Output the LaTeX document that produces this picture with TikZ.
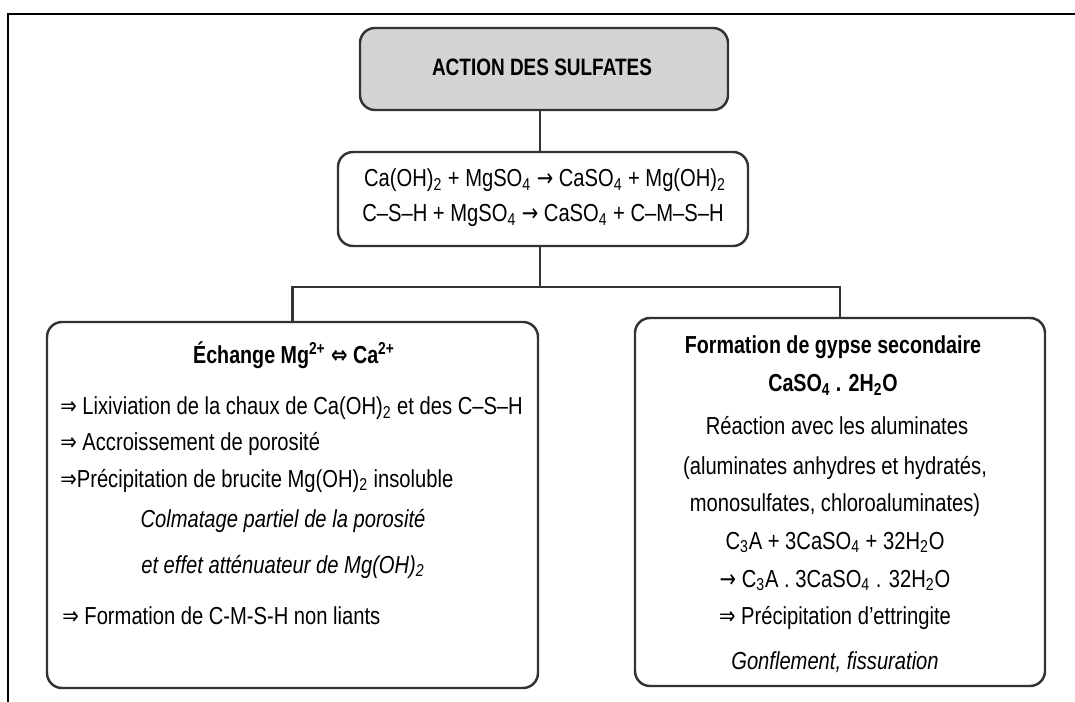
\documentclass[tikz,border=0pt]{standalone}
\usepackage{fontspec}
\setmainfont[FakeStretch=0.82,BoldFeatures={FakeStretch=0.8}]{Liberation Sans}
\newfontfamily\arrowfont[FakeStretch=0.8]{DejaVu Sans}
\usetikzlibrary{positioning}

\newcommand{\dimp}{{\arrowfont ⇒}}
\newcommand{\dequiv}{{\arrowfont ⇔}}
\newcommand{\yields}{{\arrowfont →}}
\newcommand{\sbs}[1]{\textsubscript{#1}}

\begin{document}
\begin{tikzpicture}[
            x=0.02cm, y=-0.02cm,
            font=\fontsize{14}{17}\selectfont,
            line/.style={draw=black!80, line width=1.4pt},
            box/.style={line, rectangle, rounded corners=0.3cm, inner sep=0pt},
            txt/.style={inner sep=0pt, anchor=base},
            item/.style={inner sep=0pt, anchor=base west}
        ]
        \useasboundingbox (0,0) rectangle (1075,702);
        \draw[line width=1.6pt] (8,702) -- (8,14) -- (1075,14);

        \node[box, fill=black!17, minimum width=368*0.02cm, minimum height=82*0.02cm] (T) at (544,69) {};
        \node[box, minimum width=410*0.02cm, minimum height=94*0.02cm] (E) at (543,199) {};
        \node[box, minimum width=491*0.02cm, minimum height=366*0.02cm] (L) at (292.5,505) {};
        \node[box, minimum width=410*0.02cm, minimum height=368*0.02cm] (R) at (840,502) {};

        \coordinate (split) at (540,287);
        \draw[line] (T.south -| split) -- (E.north -| split);
        \draw[line] (E.south -| split) -- (split);
        \draw[line] (split) -| (L.north);
        \draw[line] (split) -| (R.north);

        \node[txt, font=\fontsize{13.5}{17}\selectfont\bfseries] (title) at (542,76) {ACTION DES SULFATES};

        \node[txt] (eq1) at (545,187) {Ca(OH)\sbs{2} + MgSO\sbs{4} \yields{} CaSO\sbs{4} + Mg(OH)\sbs{2}};
        \node[txt] (eq2) at (543,222) {C–S–H + MgSO\sbs{4} \yields{} CaSO\sbs{4} + C–M–S–H};

        \node[txt, font=\fontsize{14}{17}\selectfont\bfseries] (ech) at (294,364) {Échange Mg\textsuperscript{2+} \dequiv{} Ca\textsuperscript{2+}};
        \node[item] (lix) at (60,415) {\dimp{} Lixiviation de la chaux de Ca(OH)\sbs{2} et des C–S–H};
        \node[item] (acc) at (60,450) {\dimp{} Accroissement de porosité};
        \node[item] (pre) at (60,487) {\dimp{}Précipitation de brucite Mg(OH)\sbs{2} insoluble};
        \node[txt, font=\fontsize{14}{17}\selectfont\itshape] (col) at (283,527) {Colmatage partiel de la porosité};
        \node[txt, font=\fontsize{14}{17}\selectfont\itshape] (att) at (283,573) {et effet atténuateur de Mg(OH)\sbs{2}};
        \node[item] (cmsh) at (62,624) {\dimp{} Formation de C-M-S-H non liants};

        \node[txt, font=\fontsize{14}{17}\selectfont\bfseries] (gyp) at (833,354) {Formation de gypse secondaire};
        \node[txt, font=\fontsize{14}{17}\selectfont\bfseries] (gyf) at (833,392) {CaSO\sbs{4} . 2H\sbs{2}O};
        \node[txt] (rea) at (837,435) {Réaction avec les aluminates};
        \node[txt] (alu) at (835,474) {(aluminates anhydres et hydratés,};
        \node[txt] (mon) at (835,511) {monosulfates, chloroaluminates)};
        \node[txt] (c3a) at (835,549) {C\sbs{3}A + 3CaSO\sbs{4} + 32H\sbs{2}O};
        \node[txt] (ett) at (835,587) {\yields{} C\sbs{3}A . 3CaSO\sbs{4} . 32H\sbs{2}O};
        \node[txt] (pet) at (835,624) {\dimp{} Précipitation d'ettringite};
        \node[txt, font=\fontsize{14}{17}\selectfont\itshape] (gon) at (835,669) {Gonflement, fissuration};
    \end{tikzpicture}
\end{document}
